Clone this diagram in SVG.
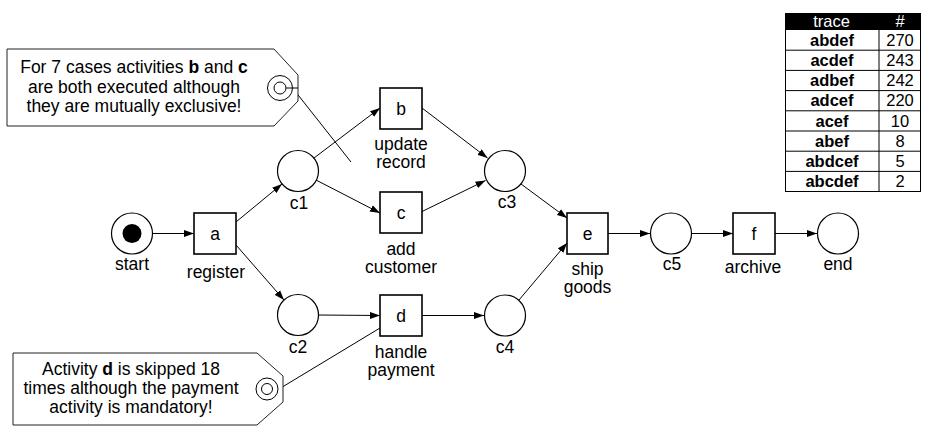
<svg xmlns="http://www.w3.org/2000/svg" width="928" height="428" viewBox="0 0 928 428">
  <defs>
    <marker id="arrow" markerUnits="userSpaceOnUse" markerWidth="10" markerHeight="8" refX="10" refY="4" orient="auto">
      <path d="M0,0.5 L10,4 L0,7.5 z" fill="#000"/>
    </marker>
  </defs>
  <style>
    text { font-family: "Liberation Sans", Arial, sans-serif; fill: #000; }
    .lbl { font-size: 17.5px; text-anchor: middle; }
    .note { font-size: 17.5px; text-anchor: middle; }
    .place { fill: #fff; stroke: #000; stroke-width: 1.2; }
    .trans { fill: #fff; stroke: #000; stroke-width: 1.6; }
    .arc { fill: none; stroke: #000; stroke-width: 1; marker-end: url(#arrow); }
    .pin { fill: none; stroke: #000; stroke-width: 1; }
    .tag { fill: #fff; stroke: #222; stroke-width: 1; }
    .cell { font-size: 16.5px; text-anchor: middle; }
    .b { font-weight: bold; }
    .grid { stroke: #000; stroke-width: 1; fill: none; }
  </style>

  <!-- connectors (arcs of the net and note pins) -->
  <g id="connectors">
    <line class="arc" x1="153" y1="233.5" x2="194" y2="233.5"/>
    <line class="arc" x1="236" y1="222" x2="282" y2="184"/>
    <line class="arc" x1="236" y1="245" x2="284" y2="300"/>
    <line class="arc" x1="314" y1="158" x2="380" y2="108"/>
    <line class="arc" x1="316" y1="180" x2="380" y2="213"/>
    <line class="arc" x1="422" y1="108" x2="487.5" y2="158"/>
    <line class="arc" x1="421" y1="212" x2="485.5" y2="180.5"/>
    <line class="arc" x1="521" y1="184" x2="567" y2="218"/>
    <line class="arc" x1="318.5" y1="315" x2="380" y2="315.5"/>
    <line class="arc" x1="422" y1="315.5" x2="484" y2="315.5"/>
    <line class="arc" x1="519" y1="300" x2="567" y2="243"/>
    <line class="arc" x1="608" y1="233.5" x2="650" y2="233.5"/>
    <line class="arc" x1="692" y1="233.5" x2="733" y2="233.5"/>
    <line class="arc" x1="775" y1="233.5" x2="817" y2="233.5"/>
    <!-- note pins -->
    <line class="pin" x1="291" y1="86" x2="351" y2="162"/>
    <line class="pin" x1="279" y1="389" x2="380" y2="328"/>
  </g>

  <!-- places -->
  <g id="start">
    <circle class="place" cx="132" cy="233.5" r="20.5"/>
    <circle cx="132" cy="233.5" r="9.5" fill="#000"/>
    <text class="lbl" x="132" y="270">start</text>
  </g>
  <g id="c1">
    <circle class="place" cx="298" cy="171" r="20.5"/>
    <text class="lbl" x="299" y="209">c1</text>
  </g>
  <g id="c2">
    <circle class="place" cx="298" cy="315" r="20.5"/>
    <text class="lbl" x="298" y="353">c2</text>
  </g>
  <g id="c3">
    <circle class="place" cx="505" cy="171" r="20.5"/>
    <text class="lbl" x="507" y="208">c3</text>
  </g>
  <g id="c4">
    <circle class="place" cx="505" cy="315.5" r="20.5"/>
    <text class="lbl" x="505" y="353">c4</text>
  </g>
  <g id="c5">
    <circle class="place" cx="671" cy="233.5" r="20.5"/>
    <text class="lbl" x="672" y="270">c5</text>
  </g>
  <g id="end">
    <circle class="place" cx="838" cy="233.5" r="20.5"/>
    <text class="lbl" x="838" y="270">end</text>
  </g>

  <!-- transitions -->
  <g id="a">
    <rect class="trans" x="194" y="213" width="42" height="41"/>
    <text class="lbl" x="215" y="240">a</text>
    <text class="lbl" x="216" y="278">register</text>
  </g>
  <g id="b">
    <rect class="trans" x="380" y="88" width="42" height="41"/>
    <text class="lbl" x="401" y="115">b</text>
    <text class="lbl" x="401" y="150">update</text>
    <text class="lbl" x="401" y="168">record</text>
  </g>
  <g id="c">
    <rect class="trans" x="380" y="192" width="42" height="41"/>
    <text class="lbl" x="401" y="219">c</text>
    <text class="lbl" x="401" y="255">add</text>
    <text class="lbl" x="401" y="273">customer</text>
  </g>
  <g id="d">
    <rect class="trans" x="380" y="295" width="42" height="41"/>
    <text class="lbl" x="401" y="322">d</text>
    <text class="lbl" x="401" y="358">handle</text>
    <text class="lbl" x="401" y="376">payment</text>
  </g>
  <g id="e">
    <rect class="trans" x="567" y="213" width="41" height="41"/>
    <text class="lbl" x="587.5" y="240">e</text>
    <text class="lbl" x="587.5" y="275">ship</text>
    <text class="lbl" x="587.5" y="293">goods</text>
  </g>
  <g id="f">
    <rect class="trans" x="733" y="213" width="42" height="41"/>
    <text class="lbl" x="754" y="240">f</text>
    <text class="lbl" x="753" y="273">archive</text>
  </g>

  <!-- notes -->
  <g id="note-bc">
    <path class="tag" d="M7,49 H274 L298,75 V101 L274,126 H7 Z"/>
    <circle class="pin" cx="280" cy="88" r="12.5"/>
    <circle class="pin" cx="280" cy="88" r="6"/>
    <line class="pin" x1="286" y1="88" x2="298" y2="88"/>
    <text class="note" x="134" y="73">For 7 cases activities <tspan class="b">b</tspan> and <tspan class="b">c</tspan></text>
    <text class="note" x="134" y="93">are both executed although</text>
    <text class="note" x="134" y="112">they are mutually exclusive!</text>
  </g>
  <g id="note-d">
    <path class="tag" d="M13,353 H257 L283,376 V402 L257,425 H13 Z"/>
    <circle class="pin" cx="267" cy="389" r="11"/>
    <circle class="pin" cx="267" cy="389" r="5.5"/>
    <text class="note" x="131" y="375">Activity <tspan class="b">d</tspan> is skipped 18</text>
    <text class="note" x="131" y="394">times although the payment</text>
    <text class="note" x="131" y="413">activity is mandatory!</text>
  </g>

  <!-- trace frequency table -->
  <g id="trace-table">
    <rect x="785" y="13" width="136" height="17" fill="#000"/>
    <text class="cell" x="831.5" y="27" style="fill:#fff">trace</text>
    <text class="cell" x="900" y="27" style="fill:#fff">#</text>
    <rect class="grid" x="785.5" y="13.5" width="135" height="178"/>
    <line class="grid" x1="879" y1="30" x2="879" y2="191.5"/>
    <g class="grid">
      <line x1="785.5" y1="50.2" x2="920.5" y2="50.2"/>
      <line x1="785.5" y1="70.4" x2="920.5" y2="70.4"/>
      <line x1="785.5" y1="90.6" x2="920.5" y2="90.6"/>
      <line x1="785.5" y1="110.8" x2="920.5" y2="110.8"/>
      <line x1="785.5" y1="131" x2="920.5" y2="131"/>
      <line x1="785.5" y1="151.2" x2="920.5" y2="151.2"/>
      <line x1="785.5" y1="171.4" x2="920.5" y2="171.4"/>
    </g>
    <text class="cell b" x="832" y="46">abdef</text><text class="cell" x="900" y="46">270</text>
    <text class="cell b" x="832" y="66">acdef</text><text class="cell" x="900" y="66">243</text>
    <text class="cell b" x="832" y="86">adbef</text><text class="cell" x="900" y="86">242</text>
    <text class="cell b" x="832" y="106">adcef</text><text class="cell" x="900" y="106">220</text>
    <text class="cell b" x="832" y="127">acef</text><text class="cell" x="900" y="127">10</text>
    <text class="cell b" x="832" y="147">abef</text><text class="cell" x="900" y="147">8</text>
    <text class="cell b" x="832" y="167">abdcef</text><text class="cell" x="900" y="167">5</text>
    <text class="cell b" x="832" y="187">abcdef</text><text class="cell" x="900" y="187">2</text>
  </g>
</svg>
